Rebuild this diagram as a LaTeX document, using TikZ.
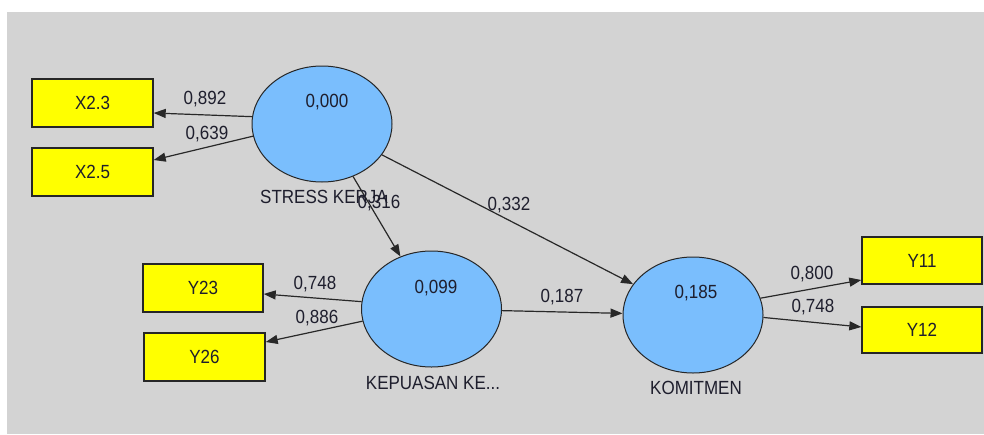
\documentclass[tikz,border=0pt]{standalone}
\usepackage{fontspec}
\setmainfont{Liberation Sans}
\usetikzlibrary{shapes.geometric,arrows.meta}
\definecolor{canvas}{RGB}{211,211,211}
\definecolor{latent}{RGB}{122,190,253}
\definecolor{indicator}{RGB}{255,255,0}
\definecolor{ink}{RGB}{30,30,45}
\definecolor{wire}{RGB}{40,40,40}
\newcommand{\tallish}[1]{\scalebox{1}[1.12]{#1}}
\begin{document}
\begin{tikzpicture}[x=1pt,y=-1pt,
  every node/.style={font=\fontsize{17}{20}\selectfont, text=ink},
  lv/.style={ellipse, draw=black!85, line width=1pt, fill=latent,
             minimum width=140pt, minimum height=116pt, inner sep=0pt},
  mv/.style={rectangle, draw=black!85, line width=1.4pt, fill=indicator,
             minimum width=121pt, minimum height=48pt, inner sep=0pt},
  wt/.style={inner sep=0pt},
  arr/.style={draw=wire, line width=1.2pt, -{Triangle[length=12pt,width=9pt]}}]
  % canvas
  \useasboundingbox (0,0) rectangle (984,434);
  \fill[white] (0,0) rectangle (984,434);
  \fill[canvas] (7,12) rectangle (984,434);

  % latent variables
  \node[lv] (stress) at (322,124) {};
  \node[lv] (puas)   at (431.5,309) {};
  \node[lv] (komit)  at (693,315) {};
  \node[wt] (stressR) at (327,102) {\tallish{0,000}};
  \node[wt] (puasR)   at (436,288) {\tallish{0,099}};
  \node[wt] (komitR)  at (696,293) {\tallish{0,185}};
  \node[wt] (stressN) at (324,197) {\tallish{STRESS KERJA}};
  \node[wt] (puasN)   at (433,383) {\tallish{KEPUASAN KE...}};
  \node[wt] (komitN)  at (696,388) {\tallish{KOMITMEN}};

  % indicators
  \node[mv] (x23) at (92.5,103) {\tallish{X2.3}};
  \node[mv] (x25) at (92.5,172) {\tallish{X2.5}};
  \node[mv, minimum width=120pt] (y23) at (203,288) {\tallish{Y23}};
  \node[mv] (y26) at (204.5,357) {\tallish{Y26}};
  \node[mv, minimum width=120pt, minimum height=47pt] (y11) at (922,260.5) {\tallish{Y11}};
  \node[mv, minimum width=120pt, minimum height=46pt] (y12) at (922,330) {\tallish{Y12}};

  % outer loadings
  \draw[arr] (stress.174) -- ([yshift=-10pt]x23.east);
  \draw[arr] (stress.190) -- ([yshift=12pt]x25.east);
  \draw[arr] (puas.174) -- ([yshift=-6pt]y23.east);
  \draw[arr] (puas.190) -- ([yshift=15pt]y26.east);
  \draw[arr] (komit.14) -- ([yshift=-19.5pt]y11.west);
  \draw[arr] (komit.-2.5) -- ([yshift=3pt]y12.west);

  % structural paths
  \draw[arr] (stress) -- (puas);
  \draw[arr] (stress) -- (komit);
  \draw[arr] (puas) -- (komit);

  % path coefficients
  \node[wt] (w1) at (205,99)  {\tallish{0,892}};
  \node[wt] (w2) at (207,134) {\tallish{0,639}};
  \node[wt] (w3) at (315,284) {\tallish{0,748}};
  \node[wt] (w4) at (317,318) {\tallish{0,886}};
  \node[wt] (w5) at (812,274) {\tallish{0,800}};
  \node[wt] (w6) at (813,307) {\tallish{0,748}};
  \node[wt] (p1) at (379,203) {\tallish{0,316}};
  \node[wt] (p2) at (509,205) {\tallish{0,332}};
  \node[wt] (p3) at (562,297) {\tallish{0,187}};
\end{tikzpicture}
\end{document}
